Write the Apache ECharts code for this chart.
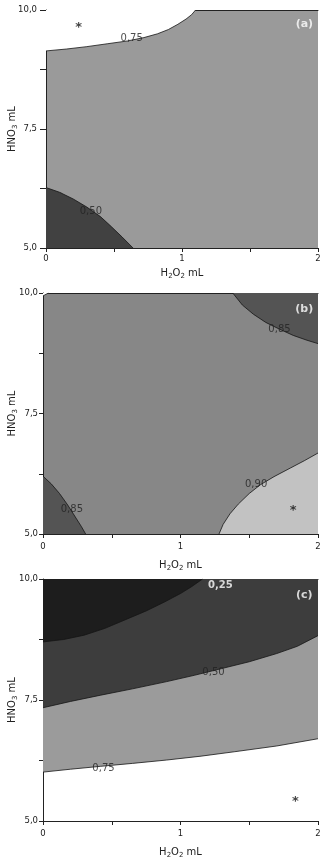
<!DOCTYPE html>
<html><head><meta charset="utf-8">
<script src="https://cdn.jsdelivr.net/npm/echarts@6/dist/echarts.min.js"></script>
<style>html,body{margin:0;padding:0;background:#fff}#c{width:325px;height:863px}</style>
</head><body><div id="c"></div>
<script>
// ---- data (x = H2O2 mL, y = HNO3 mL) ----
const xTickValues = [0, 1, 2];
const yTickValues = [5.0, 7.5, 10.0];
// panel (a)
const A_line075 = [[0,9.14],[0.15,9.18],[0.3,9.23],[0.45,9.29],[0.6,9.35],[0.72,9.42],[0.82,9.5],[0.9,9.59],[0.97,9.7],[1.03,9.81],[1.07,9.9],[1.1,10]];
const A_line050 = [[0,6.27],[0.1,6.17],[0.2,6.03],[0.3,5.86],[0.4,5.66],[0.48,5.45],[0.56,5.23],[0.64,5.0]];
const A_labels = [{name:'0,75',value:[0.63,9.4]},{name:'0,50',value:[0.33,5.76]}];
const A_star = [0.24,9.7];
// panel (b)
const B_line085top = [[1.38,10],[1.45,9.75],[1.53,9.56],[1.62,9.39],[1.72,9.25],[1.82,9.12],[1.92,9.02],[2,8.95]];
const B_line085bot = [[0,6.2],[0.06,6.04],[0.12,5.84],[0.18,5.6],[0.24,5.33],[0.28,5.15],[0.31,5]];
const B_line090 = [[1.28,5],[1.31,5.2],[1.36,5.42],[1.42,5.62],[1.5,5.84],[1.58,6.02],[1.68,6.19],[1.8,6.37],[1.9,6.52],[2,6.68]];
const B_lineCorner = [[0,9.94],[0.04,10]];
const B_labels = [{name:'0,85',value:[1.72,9.24]},{name:'0,85',value:[0.21,5.5]},{name:'0,90',value:[1.55,6.02]}];
const B_star = [1.82,5.55];
// panel (c)
const C_line025 = [[0,8.7],[0.15,8.75],[0.3,8.84],[0.45,8.98],[0.6,9.16],[0.75,9.34],[0.88,9.52],[1.0,9.7],[1.08,9.84],[1.16,10]];
const C_line050 = [[0,7.34],[0.2,7.47],[0.42,7.6],[0.65,7.73],[0.9,7.88],[1.1,8.01],[1.3,8.15],[1.5,8.29],[1.7,8.46],[1.85,8.61],[2,8.83]];
const C_line075 = [[0,6.01],[0.2,6.07],[0.42,6.13],[0.65,6.19],[0.9,6.26],[1.15,6.34],[1.39,6.43],[1.7,6.55],[2,6.7]];
const C_labels = [{name:'0,50',value:[1.24,8.08]},{name:'0,75',value:[0.44,6.08]}];
const C_whiteLabels = [{name:'0,25',value:[1.29,9.86]}];
const C_star = [1.835,5.46];
const panelTags = ['(a)','(b)','(c)'];

// ---- colours ----
const COL = {
  aBase:'#9a9a9a', aDark:'#414141', white:'#ffffff',
  bBase:'#878787', bDark:'#545454', bLight:'#c2c2c2',
  cDarkest:'#1d1d1d', cDark:'#3d3d3d', cGray:'#9b9b9b'
};

const regions = [
  [{pts:[[0,10]].concat(A_line075), color:COL.white},
   {pts:A_line050.concat([[0,5]]), color:COL.aDark}],
  [{pts:B_line085top.concat([[2,10]]), color:COL.bDark},
   {pts:B_line085bot.concat([[0,5]]), color:COL.bDark},
   {pts:B_line090.concat([[2,5]]), color:COL.bLight},
   {pts:B_lineCorner.concat([[0,10]]), color:COL.white}],
  [{pts:C_line075.concat([[2,10],[0,10]]), color:COL.cGray},
   {pts:C_line050.concat([[2,10],[0,10]]), color:COL.cDark},
   {pts:C_line025.concat([[0,10]]), color:COL.cDarkest}]
];
const bases = [COL.aBase, COL.bBase, COL.white];
const lines = [[A_line075, A_line050],[B_line085top,B_line085bot,B_line090,B_lineCorner],[C_line025,C_line050,C_line075]];
const labels = [A_labels, B_labels, C_labels];
const stars = [A_star, B_star, C_star];

const grids = [
  {left:46, top:10, width:272, height:238},
  {left:43, top:293, width:275, height:241},
  {left:43, top:579, width:275, height:242}
];
const tagPos = [[1.9,9.71],[1.9,9.67],[1.9,9.66]];

const FONT = 'DejaVu Sans';
const rich = {
  t:{fontFamily:FONT, fontSize:10, color:'#222'},
  s:{fontFamily:FONT, fontSize:7, color:'#222', padding:[6,0,0,0]}
};

const option = {animation:false, grid:[], xAxis:[], yAxis:[], series:[]};
grids.forEach((g,i)=>{
  option.grid.push(Object.assign({show:true, backgroundColor:bases[i], borderWidth:0, containLabel:false, outerBoundsMode:'none'}, g));
  option.xAxis.push({
    type:'value', gridIndex:i, min:0, max:2, interval:0.5,
    name:'{t|H}{s|2}{t|O}{s|2}{t| mL}', nameLocation:'middle', nameGap: i===0?19:25, nameMoveOverlap:false,
    nameTextStyle:{rich},
    axisLine:{show:true, onZero:false, lineStyle:{color:'#222', width:1}},
    axisTick:{show:true, length:4, lineStyle:{color:'#222'}},
    splitLine:{show:false},
    axisLabel:{fontFamily:FONT, fontSize:8.5, color:'#222', margin: i===0?6:8,
      formatter:v=> xTickValues.indexOf(v)>=0 ? String(v) : ''}
  });
  option.xAxis.push({
    type:'value', gridIndex:i, min:0, max:2, position:'top',
    axisLine:{show:true, onZero:false, lineStyle:{color:'#222', width:1}},
    axisTick:{show:false}, axisLabel:{show:false}, splitLine:{show:false}
  });
  option.yAxis.push({
    type:'value', gridIndex:i, min:5, max:10, interval:1.25,
    name:'{t|HNO}{s|3}{t| mL}', nameLocation:'middle', nameGap: i===0?27:24, nameMoveOverlap:false,
    nameTextStyle:{rich},
    axisLine:{show:true, onZero:false, lineStyle:{color:'#222', width:1}},
    axisTick:{show:true, length: i===0?6:4, lineStyle:{color:'#222'}},
    splitLine:{show:false},
    axisLabel:{fontFamily:FONT, fontSize:8.5, color:'#222', margin: i===0?9:5,
      formatter:v=> yTickValues.indexOf(v)>=0 ? v.toFixed(1).replace('.',',') : ''}
  });
  const xi = i*2, yi = i;
  const regs = regions[i];
  option.series.push({
    type:'custom', xAxisIndex:xi, yAxisIndex:yi, silent:true, clip:true, z:1,
    data: regs.map(r=>r.pts[0]),
    renderItem:(params, api)=>{
      const r = regs[params.dataIndex];
      return {type:'polygon', shape:{points:r.pts.map(p=>api.coord(p))}, style:{fill:r.color, stroke:null}};
    }
  });
  lines[i].forEach(l=>{
    option.series.push({type:'line', xAxisIndex:xi, yAxisIndex:yi, data:l, symbol:'none', silent:true,
      smooth:false, clip:true, z:3, lineStyle:{color:'#151515', width:0.8}});
  });
  option.series.push({type:'scatter', xAxisIndex:xi, yAxisIndex:yi, symbolSize:0, silent:true, z:5,
    data: labels[i],
    label:{show:true, position:'inside', formatter:p=>p.name, fontFamily:FONT, fontSize:10, color:'#222'}});
  if(i===2){
    option.series.push({type:'scatter', xAxisIndex:xi, yAxisIndex:yi, symbolSize:0, silent:true, z:5,
      data: C_whiteLabels,
      label:{show:true, position:'inside', formatter:p=>p.name, fontFamily:FONT, fontSize:10, fontWeight:'bold', color:'#fff'}});
  }
  option.series.push({type:'scatter', xAxisIndex:xi, yAxisIndex:yi, symbolSize:0, silent:true, z:5,
    data:[{name:'*', value:stars[i]}],
    label:{show:true, position:'inside', formatter:'*', fontFamily:FONT, fontSize:13, fontWeight:'bold', color:'#111', offset:[0,3]}});
  option.series.push({type:'scatter', xAxisIndex:xi, yAxisIndex:yi, symbolSize:0, silent:true, z:5,
    data:[{name:panelTags[i], value:tagPos[i]}],
    label:{show:true, position:'inside', formatter:p=>p.name, fontFamily:FONT, fontSize:11, fontWeight:'bold', color:'#fff'}});
});

const chart = echarts.init(document.getElementById('c'), null, {renderer:'canvas'});
chart.setOption(option);
</script>
</body></html>
